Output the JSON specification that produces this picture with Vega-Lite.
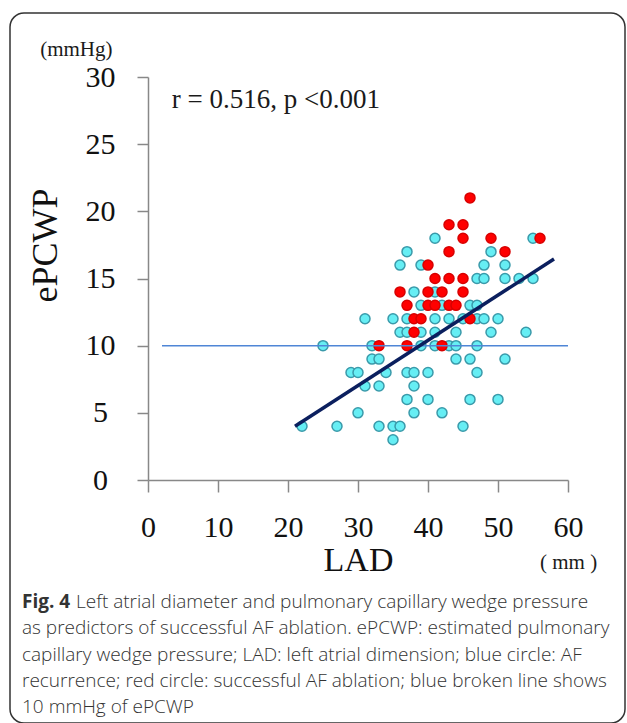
{
  "$schema": "https://vega.github.io/schema/vega-lite/v6.json",
  "width": 615,
  "height": 710,
  "padding": {"left": 10, "top": 13, "right": 2, "bottom": 0},
  "autosize": {"type": "none"},
  "background": "white",
  "config": {
    "view": {"stroke": "#333333", "strokeWidth": 1.5, "cornerRadius": 14},
    "text": {"font": "Liberation Serif", "color": "#1a1a1a"}
  },
  "layer": [
    {
      "data": {"values": [
        {"LAD": 41, "ePCWP": 18, "group": "recurrence"}, {"LAD": 55, "ePCWP": 18, "group": "recurrence"},
        {"LAD": 37, "ePCWP": 17, "group": "recurrence"}, {"LAD": 49, "ePCWP": 17, "group": "recurrence"},
        {"LAD": 36, "ePCWP": 16, "group": "recurrence"}, {"LAD": 39, "ePCWP": 16, "group": "recurrence"},
        {"LAD": 48, "ePCWP": 16, "group": "recurrence"}, {"LAD": 51, "ePCWP": 16, "group": "recurrence"},
        {"LAD": 47, "ePCWP": 15, "group": "recurrence"}, {"LAD": 48, "ePCWP": 15, "group": "recurrence"},
        {"LAD": 51, "ePCWP": 15, "group": "recurrence"}, {"LAD": 53, "ePCWP": 15, "group": "recurrence"},
        {"LAD": 55, "ePCWP": 15, "group": "recurrence"},
        {"LAD": 38, "ePCWP": 14, "group": "recurrence"}, {"LAD": 41, "ePCWP": 14, "group": "recurrence"},
        {"LAD": 39, "ePCWP": 13, "group": "recurrence"}, {"LAD": 42, "ePCWP": 13, "group": "recurrence"},
        {"LAD": 46, "ePCWP": 13, "group": "recurrence"}, {"LAD": 47, "ePCWP": 13, "group": "recurrence"},
        {"LAD": 31, "ePCWP": 12, "group": "recurrence"}, {"LAD": 35, "ePCWP": 12, "group": "recurrence"},
        {"LAD": 37, "ePCWP": 12, "group": "recurrence"}, {"LAD": 41, "ePCWP": 12, "group": "recurrence"},
        {"LAD": 43, "ePCWP": 12, "group": "recurrence"}, {"LAD": 45, "ePCWP": 12, "group": "recurrence"},
        {"LAD": 47, "ePCWP": 12, "group": "recurrence"}, {"LAD": 48, "ePCWP": 12, "group": "recurrence"},
        {"LAD": 50, "ePCWP": 12, "group": "recurrence"},
        {"LAD": 36, "ePCWP": 11, "group": "recurrence"}, {"LAD": 37, "ePCWP": 11, "group": "recurrence"},
        {"LAD": 39, "ePCWP": 11, "group": "recurrence"}, {"LAD": 41, "ePCWP": 11, "group": "recurrence"},
        {"LAD": 44, "ePCWP": 11, "group": "recurrence"}, {"LAD": 49, "ePCWP": 11, "group": "recurrence"},
        {"LAD": 54, "ePCWP": 11, "group": "recurrence"},
        {"LAD": 25, "ePCWP": 10, "group": "recurrence"}, {"LAD": 32, "ePCWP": 10, "group": "recurrence"},
        {"LAD": 39, "ePCWP": 10, "group": "recurrence"}, {"LAD": 41, "ePCWP": 10, "group": "recurrence"},
        {"LAD": 43, "ePCWP": 10, "group": "recurrence"}, {"LAD": 44, "ePCWP": 10, "group": "recurrence"},
        {"LAD": 47, "ePCWP": 10, "group": "recurrence"},
        {"LAD": 32, "ePCWP": 9, "group": "recurrence"}, {"LAD": 33, "ePCWP": 9, "group": "recurrence"},
        {"LAD": 44, "ePCWP": 9, "group": "recurrence"}, {"LAD": 46, "ePCWP": 9, "group": "recurrence"},
        {"LAD": 51, "ePCWP": 9, "group": "recurrence"},
        {"LAD": 29, "ePCWP": 8, "group": "recurrence"}, {"LAD": 30, "ePCWP": 8, "group": "recurrence"},
        {"LAD": 34, "ePCWP": 8, "group": "recurrence"}, {"LAD": 37, "ePCWP": 8, "group": "recurrence"},
        {"LAD": 38, "ePCWP": 8, "group": "recurrence"}, {"LAD": 40, "ePCWP": 8, "group": "recurrence"},
        {"LAD": 47, "ePCWP": 8, "group": "recurrence"},
        {"LAD": 31, "ePCWP": 7, "group": "recurrence"}, {"LAD": 33, "ePCWP": 7, "group": "recurrence"},
        {"LAD": 38, "ePCWP": 7, "group": "recurrence"},
        {"LAD": 37, "ePCWP": 6, "group": "recurrence"}, {"LAD": 40, "ePCWP": 6, "group": "recurrence"},
        {"LAD": 46, "ePCWP": 6, "group": "recurrence"}, {"LAD": 50, "ePCWP": 6, "group": "recurrence"},
        {"LAD": 30, "ePCWP": 5, "group": "recurrence"}, {"LAD": 38, "ePCWP": 5, "group": "recurrence"},
        {"LAD": 42, "ePCWP": 5, "group": "recurrence"},
        {"LAD": 22, "ePCWP": 4, "group": "recurrence"}, {"LAD": 27, "ePCWP": 4, "group": "recurrence"},
        {"LAD": 33, "ePCWP": 4, "group": "recurrence"}, {"LAD": 35, "ePCWP": 4, "group": "recurrence"},
        {"LAD": 36, "ePCWP": 4, "group": "recurrence"}, {"LAD": 45, "ePCWP": 4, "group": "recurrence"},
        {"LAD": 35, "ePCWP": 3, "group": "recurrence"},
        {"LAD": 46, "ePCWP": 21, "group": "success"},
        {"LAD": 43, "ePCWP": 19, "group": "success"}, {"LAD": 45, "ePCWP": 19, "group": "success"},
        {"LAD": 45, "ePCWP": 18, "group": "success"}, {"LAD": 49, "ePCWP": 18, "group": "success"},
        {"LAD": 56, "ePCWP": 18, "group": "success"},
        {"LAD": 43, "ePCWP": 17, "group": "success"}, {"LAD": 51, "ePCWP": 17, "group": "success"},
        {"LAD": 40, "ePCWP": 16, "group": "success"},
        {"LAD": 41, "ePCWP": 15, "group": "success"}, {"LAD": 43, "ePCWP": 15, "group": "success"},
        {"LAD": 45, "ePCWP": 15, "group": "success"},
        {"LAD": 36, "ePCWP": 14, "group": "success"}, {"LAD": 40, "ePCWP": 14, "group": "success"},
        {"LAD": 42, "ePCWP": 14, "group": "success"}, {"LAD": 45, "ePCWP": 14, "group": "success"},
        {"LAD": 37, "ePCWP": 13, "group": "success"}, {"LAD": 40, "ePCWP": 13, "group": "success"},
        {"LAD": 41, "ePCWP": 13, "group": "success"}, {"LAD": 43, "ePCWP": 13, "group": "success"},
        {"LAD": 44, "ePCWP": 13, "group": "success"},
        {"LAD": 38, "ePCWP": 12, "group": "success"}, {"LAD": 39, "ePCWP": 12, "group": "success"},
        {"LAD": 46, "ePCWP": 12, "group": "success"},
        {"LAD": 38, "ePCWP": 11, "group": "success"},
        {"LAD": 33, "ePCWP": 10, "group": "success"}, {"LAD": 37, "ePCWP": 10, "group": "success"},
        {"LAD": 42, "ePCWP": 10, "group": "success"}
      ]},
      "mark": {"type": "circle", "size": 100, "opacity": 1, "strokeWidth": 1.5},
      "encoding": {
        "x": {
          "field": "LAD", "type": "quantitative",
          "scale": {"domain": [0, 60], "range": [138, 558], "nice": false, "zero": false},
          "axis": {
            "orient": "bottom", "offset": -243,
            "values": [0, 10, 20, 30, 40, 50, 60],
            "grid": false,
            "domainColor": "#888888", "domainWidth": 1.5,
            "tickColor": "#888888", "tickWidth": 1.5, "tickSize": 12,
            "labelFont": "Liberation Serif", "labelFontSize": 30, "labelColor": "#111111",
            "labelPadding": 35, "labelBaseline": "middle", "labelFlush": false, "labelOverlap": false,
            "title": "LAD", "titleFont": "Liberation Serif", "titleFontSize": 34,
            "titleFontWeight": "normal", "titleColor": "#111111",
            "titleX": 348, "titleY": 80, "titleAlign": "center", "titleBaseline": "middle"
          }
        },
        "y": {
          "field": "ePCWP", "type": "quantitative",
          "scale": {"domain": [0, 30], "range": [467, 64], "nice": false, "zero": false},
          "axis": {
            "orient": "left", "offset": -138,
            "values": [0, 5, 10, 15, 20, 25, 30],
            "grid": false,
            "domainColor": "#888888", "domainWidth": 1.5,
            "tickColor": "#888888", "tickWidth": 1.5, "tickSize": 11,
            "labelFont": "Liberation Serif", "labelFontSize": 30, "labelColor": "#111111",
            "labelPadding": 37, "labelAlign": "center", "labelBaseline": "middle",
            "labelFlush": false, "labelOverlap": false,
            "title": "ePCWP", "titleFont": "Liberation Serif", "titleFontSize": 36,
            "titleFontWeight": "normal", "titleColor": "#111111",
            "titleX": -103, "titleY": 232, "titleAngle": 270,
            "titleAlign": "center", "titleBaseline": "middle"
          }
        },
        "fill": {
          "field": "group", "type": "nominal", "legend": null,
          "scale": {"domain": ["recurrence", "success"], "range": ["#66EEF4", "#FF0000"]}
        },
        "stroke": {
          "field": "group", "type": "nominal", "legend": null,
          "scale": {"domain": ["recurrence", "success"], "range": ["#3A9AAA", "#D80000"]}
        }
      }
    },
    {
      "data": {"values": [{"level": 10}]},
      "mark": {"type": "rule", "color": "#4F86D6", "strokeWidth": 1.5},
      "encoding": {
        "x": {"datum": 2, "type": "quantitative"},
        "x2": {"datum": 60},
        "y": {"field": "level", "type": "quantitative", "title": "ePCWP"}
      }
    },
    {
      "data": {"values": [{"LAD": 21, "ePCWP": 4.0}, {"LAD": 58, "ePCWP": 16.45}]},
      "mark": {"type": "line", "color": "#0B1F5E", "strokeWidth": 3.5},
      "encoding": {
        "x": {"field": "LAD", "type": "quantitative", "title": "LAD"},
        "y": {"field": "ePCWP", "type": "quantitative", "title": "ePCWP"}
      }
    },
    {
      "data": {"values": [{"t": "(mmHg)"}]},
      "mark": {"type": "text", "align": "left", "baseline": "middle", "fontSize": 21},
      "encoding": {
        "x": {"datum": -15.4, "type": "quantitative"},
        "y": {"datum": 32.0, "type": "quantitative"},
        "text": {"field": "t"}
      }
    },
    {
      "data": {"values": [{"t": "r = 0.516, p <0.001"}]},
      "mark": {"type": "text", "align": "left", "baseline": "middle", "fontSize": 27},
      "encoding": {
        "x": {"datum": 3.4, "type": "quantitative"},
        "y": {"datum": 28.3, "type": "quantitative"},
        "text": {"field": "t"}
      }
    },
    {
      "data": {"values": [{"t": "( mm )"}]},
      "mark": {"type": "text", "align": "left", "baseline": "middle", "fontSize": 21},
      "encoding": {
        "x": {"datum": 56, "type": "quantitative"},
        "y": {"datum": -6.2, "type": "quantitative"},
        "text": {"field": "t"}
      }
    },
    {
      "data": {"values": [{"t": "Fig. 4"}]},
      "mark": {"type": "text", "align": "left", "baseline": "alphabetic", "font": "Open Sans", "fontSize": 19, "fontWeight": "bold", "color": "#333333"},
      "encoding": {
        "x": {"datum": -18, "type": "quantitative"},
        "y": {"datum": -9.53, "type": "quantitative"},
        "text": {"field": "t"}
      }
    },
    {
      "data": {"values": [{"t": "Left atrial diameter and pulmonary capillary wedge pressure"}]},
      "mark": {"type": "text", "align": "left", "baseline": "alphabetic", "font": "Open Sans", "fontSize": 19, "fontWeight": 300, "color": "#333333", "dx": 54},
      "encoding": {
        "x": {"datum": -18, "type": "quantitative"},
        "y": {"datum": -9.53, "type": "quantitative"},
        "text": {"field": "t"}
      }
    },
    {
      "data": {"values": [{"t": "as predictors of successful AF ablation. ePCWP: estimated pulmonary\ncapillary wedge pressure; LAD: left atrial dimension; blue circle: AF\nrecurrence; red circle: successful AF ablation; blue broken line shows\n10 mmHg of ePCWP"}]},
      "mark": {"type": "text", "align": "left", "baseline": "alphabetic", "font": "Open Sans", "fontSize": 19, "fontWeight": 300, "color": "#333333", "lineBreak": "\n", "lineHeight": 26.3},
      "encoding": {
        "x": {"datum": -18, "type": "quantitative"},
        "y": {"datum": -11.49, "type": "quantitative"},
        "text": {"field": "t"}
      }
    }
  ]
}
